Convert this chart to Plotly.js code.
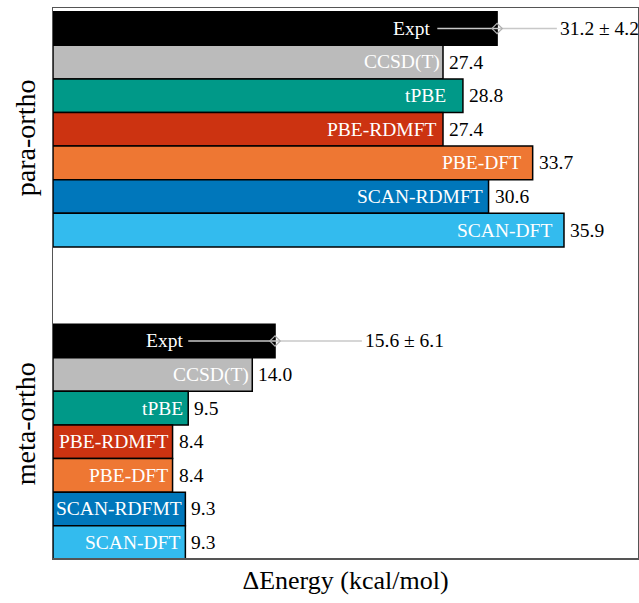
<!DOCTYPE html>
<html>
<head>
<meta charset="utf-8">
<script src="https://cdn.plot.ly/plotly-3.0.1.min.js"></script>
<style>html,body{margin:0;padding:0;background:#fff;}#chart{width:639px;height:603px;}</style>
</head>
<body>
<div id="chart"></div>
<script>
// ---- data ----
const groups = ['para-ortho', 'meta-ortho'];
const paraNames = ['Expt', 'CCSD(T)', 'tPBE', 'PBE-RDMFT', 'PBE-DFT', 'SCAN-RDMFT', 'SCAN-DFT'];
const metaNames = ['Expt', 'CCSD(T)', 'tPBE', 'PBE-RDMFT', 'PBE-DFT', 'SCAN-RDFMT', 'SCAN-DFT'];
const paraValues = [31.2, 27.4, 28.8, 27.4, 33.7, 30.6, 35.9];
const metaValues = [15.6, 14.0, 9.5, 8.4, 8.4, 9.3, 9.3];
const paraErr = [4.2, 0, 0, 0, 0, 0, 0];
const metaErr = [6.1, 0, 0, 0, 0, 0, 0];
const xTitle = 'ΔEnergy (kcal/mol)';

// ---- styles ----
const colors = ['#000000', '#BBBBBB', '#009988', '#CC3311', '#EE7733', '#0077BB', '#33BBEE'];
const FONT = 'Liberation Serif';
const paraShift = [-5, -1, -15, -4, -10, -4, -10];
const metaShift = [-3, -1, -3, -2, -3, -1, -3];
const groupOffset = [0, 9.3];

const sets = [
  {names: paraNames, vals: paraValues, errs: paraErr, shifts: paraShift},
  {names: metaNames, vals: metaValues, errs: metaErr, shifts: metaShift}
];

const traces = [];
const annotations = [];
sets.forEach((s, g) => {
  const ys = s.vals.map((v, i) => groupOffset[g] + i);
  traces.push({
    type: 'bar', orientation: 'h', x: s.vals, y: ys, width: 1,
    marker: {color: colors, line: {color: '#000', width: 1.5}},
    error_x: {type: 'data', array: s.errs, visible: true, color: '#c8c8c8', thickness: 1.6, width: 0},
    hoverinfo: 'none', showlegend: false
  });
  const ex = [], ey = [];
  s.vals.forEach((v, i) => {
    const e = s.errs[i];
    if (e > 0) { ex.push(v); ey.push(ys[i]); }
    annotations.push({
      x: v - e, y: ys[i], xref: 'x', yref: 'y', text: s.names[i], showarrow: false,
      xanchor: 'right', yanchor: 'middle', xshift: s.shifts[i],
      font: {family: FONT, size: 19.5, color: '#ffffff'}
    });
    annotations.push({
      x: v + e, y: ys[i], xref: 'x', yref: 'y',
      text: e > 0 ? v.toFixed(1) + ' ± ' + e.toFixed(1) : v.toFixed(1),
      showarrow: false, xanchor: 'left', yanchor: 'middle', xshift: e > 0 ? 1 : 4,
      font: {family: FONT, size: 19.5, color: '#000000'}
    });
  });
  traces.push({
    type: 'scatter', mode: 'markers', x: ex, y: ey,
    marker: {symbol: 'diamond-open', size: 8, color: '#b0b0b0', line: {width: 1.2}},
    hoverinfo: 'none', showlegend: false, cliponaxis: false
  });
});

annotations.push({x: -0.048, y: 0.765, xref: 'paper', yref: 'paper', text: groups[0], showarrow: false,
  textangle: -90, xanchor: 'center', yanchor: 'middle', font: {family: FONT, size: 28, color: '#000'}});
annotations.push({x: -0.048, y: 0.245, xref: 'paper', yref: 'paper', text: groups[1], showarrow: false,
  textangle: -90, xanchor: 'center', yanchor: 'middle', font: {family: FONT, size: 28, color: '#000'}});

const layout = {
  width: 639, height: 603,
  margin: {l: 53, r: 1, t: 8, b: 45},
  paper_bgcolor: '#fff', plot_bgcolor: '#fff',
  bargap: 0,
  font: {family: FONT},
  xaxis: {
    range: [0, 41.1], showticklabels: false, ticks: '', showgrid: false, zeroline: false,
    showline: true, mirror: true, linecolor: '#555', linewidth: 1.5,
    title: {text: xTitle, font: {family: FONT, size: 26, color: '#000'}, standoff: 12}
  },
  yaxis: {
    range: [15.76, -0.61], showticklabels: false, ticks: '', showgrid: false, zeroline: false,
    showline: true, mirror: true, linecolor: '#555', linewidth: 1.5
  },
  annotations: annotations
};

Plotly.newPlot('chart', traces, layout, {displayModeBar: false, staticPlot: true});
</script>
</body>
</html>
